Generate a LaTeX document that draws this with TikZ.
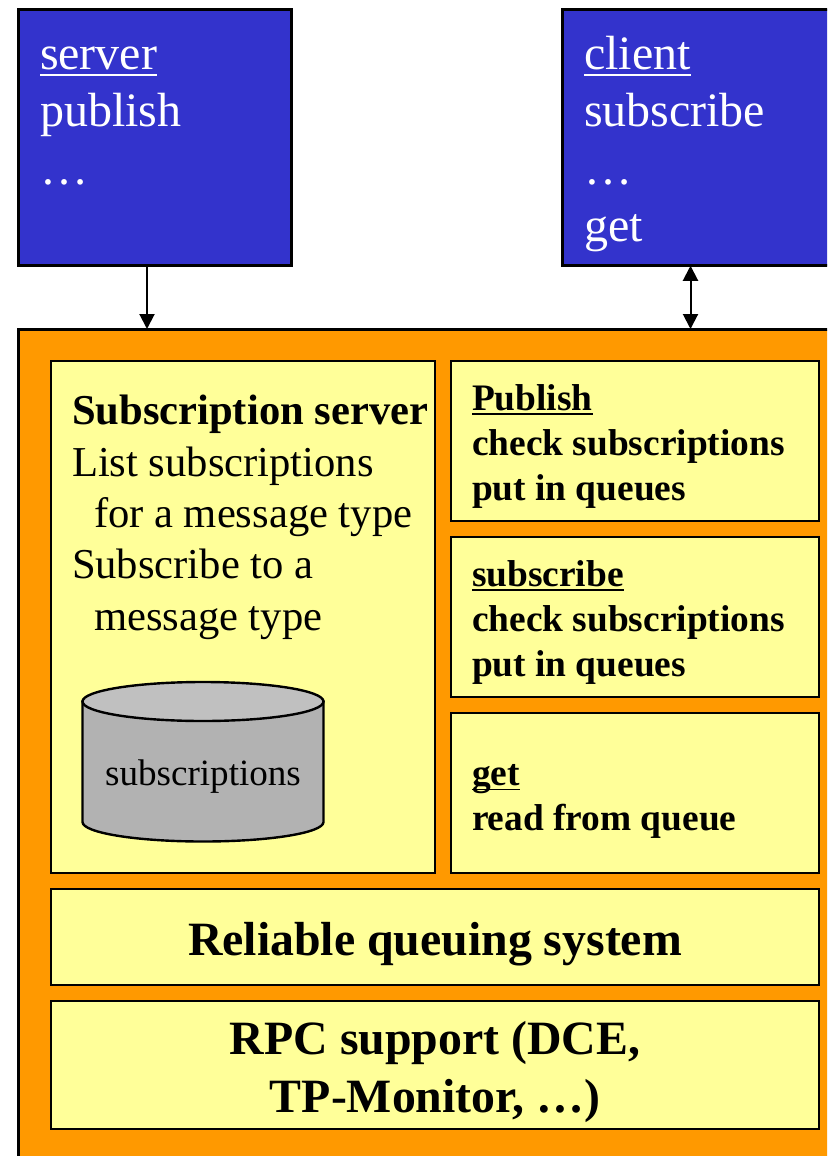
\documentclass[tikz,border=0pt]{standalone}
\usepackage{fontspec}
\setmainfont{Liberation Serif}
\usetikzlibrary{arrows.meta}
\definecolor{boxblue}{HTML}{3333CC}
\definecolor{boxorange}{HTML}{FF9900}
\definecolor{boxyellow}{HTML}{FFFF99}
\definecolor{cylside}{HTML}{B2B2B2}
\definecolor{cyltop}{HTML}{C0C0C0}
\newcommand{\fs}[1]{\fontsize{#1}{#1}\selectfont}
\newsavebox{\ulbox}
\newcommand{\ulined}[1]{\sbox{\ulbox}{#1}\rlap{\rule[-0.125em]{\wd\ulbox}{0.045em}}\usebox{\ulbox}}
\tikzset{
  x=1pt, y=-1pt,
  boxbase/.style={draw=black, line width=2.8pt, inner sep=0pt, outer sep=0pt, rectangle},
  bluebox/.style={boxbase, fill=boxblue},
  orangebox/.style={boxbase, fill=boxorange},
  yellowbox/.style={boxbase, fill=boxyellow},
  txt/.style={inner sep=0pt, outer sep=0pt, anchor=base west},
  txtc/.style={inner sep=0pt, outer sep=0pt, anchor=base},
  whitetxt/.style={txt, text=white, font=\fs{48}},
  listtxt/.style={txt, font=\fs{42.6}},
  boldhead/.style={txt, font=\fs{37.4}\bfseries},
  wide/.style={txtc, font=\fs{47.8}\bfseries},
  link/.style={draw=black, line width=2pt},
}
\begin{document}
\begin{tikzpicture}
\useasboundingbox (0,0) rectangle (827,1156);
\clip (0,0) rectangle (827,1156);
\fill[white] (0,0) rectangle (827,1156);

% top boxes
\node[bluebox, minimum width=273pt, minimum height=256.5pt] (server) at (155,137.5) {};
\node[bluebox, minimum width=273pt, minimum height=256.5pt] (client) at (699,137.5) {};
% outer box
\node[orangebox, minimum width=860pt, minimum height=860pt] (outer) at (448.5,759.5) {};

% connectors
\coordinate (srvport) at (147,329);
\coordinate (cliport) at (690.5,329);
\draw[link, -{Triangle[length=15pt,width=15pt]}] (srvport |- server.south) -- (srvport);
\draw[link, {Triangle[length=15pt,width=15pt]}-{Triangle[length=15pt,width=15pt]}] (cliport |- client.south) -- (cliport);

% inner boxes
\node[yellowbox, minimum width=384pt, minimum height=512pt] (subsrv) at (243,617) {};
\node[yellowbox, minimum width=368pt, minimum height=160pt] (pubbox) at (635,441) {};
\node[yellowbox, minimum width=368pt, minimum height=160pt] (subbox) at (635,617) {};
\node[yellowbox, minimum width=368pt, minimum height=160pt] (getbox) at (635,793) {};
\node[yellowbox, minimum width=768pt, minimum height=96pt] (queue) at (435,937) {};
\node[yellowbox, minimum width=768pt, minimum height=128pt] (rpc) at (435,1065) {};

% cylinder
\draw[black, line width=2.4pt, fill=cylside] (82.5,701.5) -- (82.5,822) arc[start angle=180, end angle=360, x radius=120.5pt, y radius=19.5pt] -- (323.5,701.5) -- cycle;
\draw[black, line width=2.4pt, fill=cyltop] (203,701.5) ellipse[x radius=120.5pt, y radius=19.5pt];
\node[txtc, font=\fs{37.1}] (cyllabel) at (203,785) {subscriptions};

% blue box texts
\node[whitetxt] (t1) at (40,70) {\ulined{server}};
\node[whitetxt] (t2) at (40,126.5) {publish};
\node[whitetxt] (t3) at (40,184) {…};
\node[whitetxt] (t4) at (584,70) {\ulined{client}};
\node[whitetxt] (t5) at (584,126.5) {subscribe};
\node[whitetxt] (t6) at (584,184) {…};
\node[whitetxt] (t7) at (584,241.5) {get};

% subscription server text
\node[listtxt, font=\fs{42.6}\bfseries] (s1) at (72,424) {Subscription server};
\node[listtxt] (s2) at (72,476) {List subscriptions};
\node[listtxt] (s3) at (94,527.5) {for a message type};
\node[listtxt] (s4) at (72,578) {Subscribe to a};
\node[listtxt] (s5) at (94,630) {message type};

% right box texts
\node[boldhead] (p1) at (472,410.5) {\ulined{Publish}};
\node[boldhead] (p2) at (472,455) {check subscriptions};
\node[boldhead] (p3) at (472,500.5) {put in queues};
\node[boldhead] (q1) at (472,586.5) {\ulined{subscribe}};
\node[boldhead] (q2) at (472,631) {check subscriptions};
\node[boldhead] (q3) at (472,676.5) {put in queues};
\node[boldhead] (g1) at (472,785.5) {\ulined{get}};
\node[boldhead] (g2) at (472,830) {read from queue};

% wide box texts
\node[wide] (w1) at (435,955) {Reliable queuing system};
\node[wide] (w2) at (435,1054) {RPC support (DCE,};
\node[wide] (w3) at (435,1112) {TP-Monitor, …)};
\end{tikzpicture}
\end{document}
